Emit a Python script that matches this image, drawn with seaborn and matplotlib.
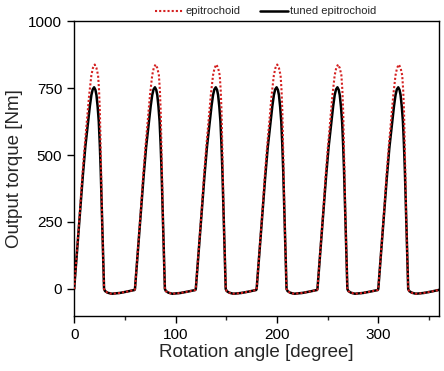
import matplotlib
matplotlib.use("Agg")
import matplotlib.pyplot as plt
import numpy as np
import pandas as pd
import seaborn as sns
from matplotlib.ticker import MultipleLocator

# one torque lobe per 60 degrees, repeated six times
TUNED_ANGLE = [0, 2, 4, 6, 8.5, 11, 13.8, 15.5, 17, 18.3, 19.7, 21, 22, 23.2,
               24.3, 25.3, 26.2, 27.5, 28.5, 29.5, 30.5, 33, 37, 45, 52, 59.5]
TUNED_TORQUE = [0, 100, 200, 300, 420, 530, 625, 683, 724, 745, 753, 743, 724,
                680, 625, 540, 444, 270, 130, 0, -8, -14, -18, -15, -10, -4]
EPI_ANGLE = [0, 2, 4, 6, 8, 10.3, 12.5, 13.7, 14.8, 16, 17, 18.5, 20.3, 22,
             23.6, 24.6, 25.4, 26.2, 26.6, 27.5, 28.5, 29.5, 30.5, 33, 37, 45,
             52, 59.5]
EPI_TORQUE = [0, 100, 200, 305, 420, 530, 625, 678, 724, 765, 798, 825, 838,
              825, 798, 740, 660, 520, 444, 270, 130, 0, -8, -14, -18, -15,
              -10, -4]
LOBE_STARTS = [0, 60, 120, 180, 240, 300]
END_ANGLE = 360
END_TORQUE = -3

X_TICKS = [0, 100, 200, 300]
Y_TICKS = [0, 250, 500, 750, 1000]


def build_series(angles, torques, name):
    angle = np.concatenate([np.array(angles) + s for s in LOBE_STARTS])
    torque = np.tile(torques, len(LOBE_STARTS))
    return pd.DataFrame({
        "angle": np.append(angle, END_ANGLE),
        "torque": np.append(torque, END_TORQUE),
        "profile": name,
    })


def main():
    sns.set_style("ticks")
    plt.rcParams["font.family"] = ["Liberation Sans", "DejaVu Sans"]

    tuned = build_series(TUNED_ANGLE, TUNED_TORQUE, "tuned epitrochoid")
    epi = build_series(EPI_ANGLE, EPI_TORQUE, "epitrochoid")

    fig, ax = plt.subplots(figsize=(4.44, 3.71), dpi=100)
    fig.subplots_adjust(left=0.167, right=0.989, top=0.943, bottom=0.149)

    sns.lineplot(data=tuned, x="angle", y="torque", ax=ax, color="black",
                 linewidth=1.8, label="tuned epitrochoid", zorder=2, sort=False)
    sns.lineplot(data=epi, x="angle", y="torque", ax=ax, color="#d42020",
                 linewidth=1.5, linestyle=(0, (1, 1)), label="epitrochoid",
                 zorder=3, sort=False)

    ax.set_xlim(0, 360)
    ax.set_ylim(-100, 1000)
    ax.set_xticks(X_TICKS)
    ax.set_yticks(Y_TICKS)
    ax.xaxis.set_minor_locator(MultipleLocator(50))
    ax.tick_params(axis="both", which="major", direction="out", length=5,
                   width=1, labelsize=11, colors="black")
    ax.tick_params(axis="x", which="minor", direction="out", length=3, width=1)
    for spine in ax.spines.values():
        spine.set_visible(True)
        spine.set_color("black")
        spine.set_linewidth(1.0)

    ax.set_xlabel("Rotation angle [degree]", fontsize=13.5, labelpad=2)
    ax.set_ylabel("Output torque [Nm]", fontsize=13.5, labelpad=4)

    handles, labels = ax.get_legend_handles_labels()
    order = [labels.index("epitrochoid"), labels.index("tuned epitrochoid")]
    ax.legend([handles[i] for i in order], [labels[i] for i in order],
              loc="upper center", bbox_to_anchor=(0.526, 1.065), ncol=2,
              frameon=False, fontsize=8, handlelength=2.5, columnspacing=1.8,
              handletextpad=0.2, borderaxespad=0)

    fig.savefig("out.png", dpi=100)
    plt.close(fig)


if __name__ == "__main__":
    main()
